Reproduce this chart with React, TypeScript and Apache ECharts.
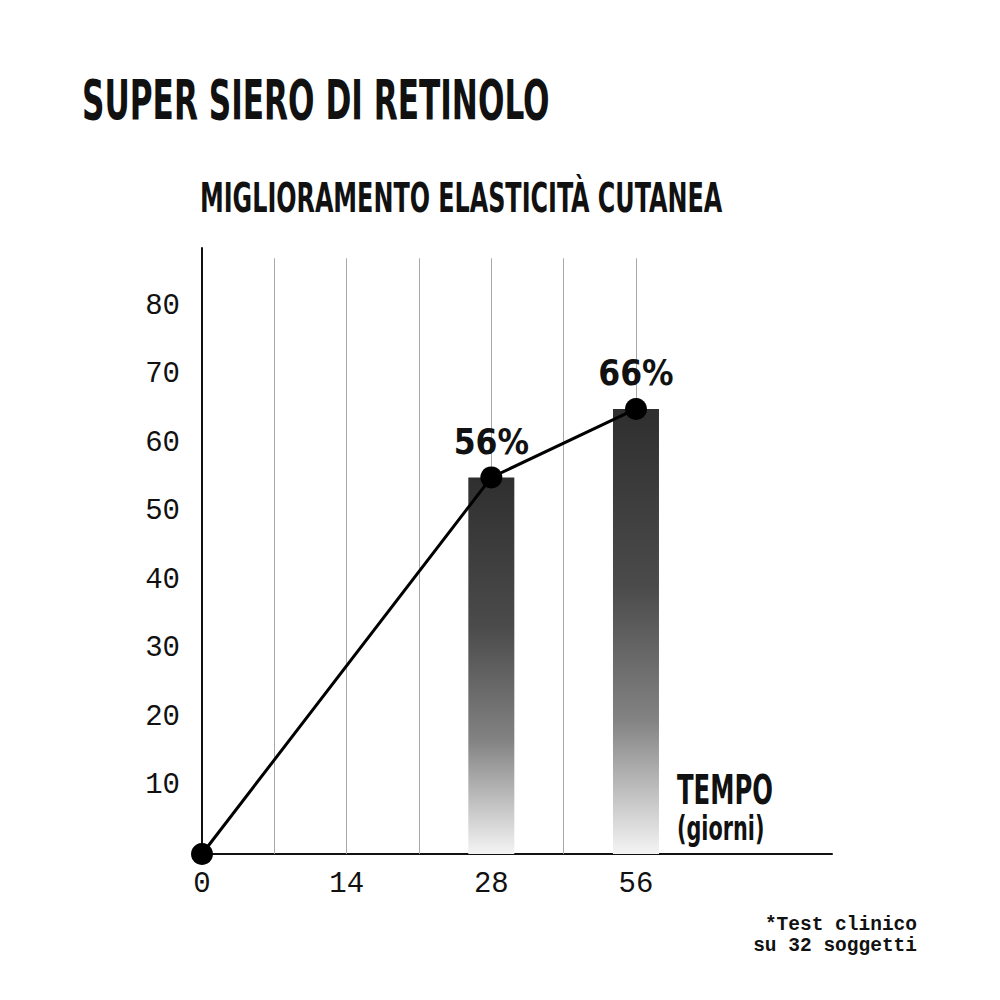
import React, { useEffect, useRef } from 'react';
import * as echarts from 'echarts';

// ---- data ----
const titleText = 'SUPER SIERO DI RETINOLO';
const subtitleText = 'MIGLIORAMENTO ELASTICITÀ CUTANEA';
const xAxisName = 'TEMPO';
const xAxisUnit = '(giorni)';
const footnoteLines = ['*Test clinico', 'su 32 soggetti'];

const dayLabels = ['0', '14', '28', '56'];
const dayPositions = [0, 2, 4, 6];
const gridPositions = [1, 2, 3, 4, 5, 6];
const yTicks = [10, 20, 30, 40, 50, 60, 70, 80];

const linePositions = [0, 4, 6];
const lineValues = [0, 55, 65];
const pointLabels = ['', '56%', '66%'];

const barPositions = [4, 6];
const barValues = [55, 65];

const COND = '"DejaVu Sans Condensed", "DejaVu Sans", sans-serif';
const MONO = '"Liberation Mono", "DejaVu Sans Mono", monospace';

function textEl(text: string, x: number, y: number, size: number, sx: number, align: string, family: string, weight: string | number = 'bold') {
  return {
    type: 'text',
    x,
    y,
    scaleX: sx,
    silent: true,
    style: {
      text,
      x: 0,
      y: 0,
      fill: '#111',
      fontSize: size,
      fontWeight: weight,
      fontFamily: family,
      align,
      textAlign: align,
      verticalAlign: 'middle',
      textVerticalAlign: 'middle',
    },
  };
}

export default function App() {
  const ref = useRef<HTMLDivElement>(null);
  useEffect(() => {
    document.body.style.margin = '0';
    const chart = echarts.init(ref.current!, null, { renderer: 'svg' });
    const option: any = {
      animation: false,
      backgroundColor: '#ffffff',
      grid: { left: 202, right: 168, top: 248, bottom: 146 },
      xAxis: {
        type: 'value',
        min: 0,
        max: 8.71,
        interval: 1,
        axisLine: { show: true, lineStyle: { color: '#111', width: 2 } },
        axisTick: { show: false },
        splitLine: { show: false },
        axisLabel: {
          margin: 16,
          fontFamily: MONO,
          fontSize: 29,
          color: '#111',
          showMaxLabel: false,
          formatter: (v: number) => {
            const i = dayPositions.indexOf(v);
            return i >= 0 ? dayLabels[i] : '';
          },
        },
      },
      yAxis: {
        type: 'value',
        min: 0,
        max: 88.5,
        interval: 10,
        axisLine: { show: true, lineStyle: { color: '#111', width: 2 } },
        axisTick: { show: false },
        splitLine: { show: false },
        axisLabel: {
          margin: 22,
          fontFamily: MONO,
          fontSize: 29,
          color: '#111',
          formatter: (v: number) => (yTicks.includes(v) ? String(v) : ''),
        },
      },
      series: [
        {
          type: 'line',
          z: 1,
          silent: true,
          data: linePositions.map((p, i) => [p, lineValues[i]]),
          showSymbol: false,
          lineStyle: { opacity: 0 },
          markLine: {
            z: 1,
            silent: true,
            symbol: 'none',
            label: { show: false },
            lineStyle: { color: '#a8a8a8', width: 1, type: 'solid' },
            data: gridPositions.map((p) => [{ coord: [p, 0] }, { coord: [p, 87] }]),
          },
        },
        {
          type: 'bar',
          z: 2,
          barWidth: 46,
          data: barPositions.map((p, i) => [p, barValues[i]]),
          itemStyle: {
            color: new echarts.graphic.LinearGradient(0, 0, 0, 1, [
              { offset: 0, color: '#2f2f2f' },
              { offset: 0.4, color: '#4b4b4b' },
              { offset: 0.7, color: '#838383' },
              { offset: 1, color: '#f4f4f4' },
            ]),
          },
        },
        {
          type: 'line',
          z: 3,
          data: linePositions.map((p, i) => [p, lineValues[i]]),
          symbol: 'circle',
          symbolSize: 22,
          itemStyle: { color: '#000' },
          lineStyle: { color: '#000', width: 3 },
          label: {
            show: true,
            position: 'top',
            distance: 7,
            fontFamily: COND,
            fontWeight: 'bold',
            fontSize: 35,
            color: '#111',
            formatter: (p: any) => pointLabels[p.dataIndex],
          },
        },
      ],
      graphic: [
        textEl(titleText, 82, 100, 55, 0.63, 'left', COND),
        textEl(subtitleText, 200, 198, 41, 0.647, 'left', COND),
        textEl(xAxisName, 677, 790, 41, 0.66, 'left', COND),
        textEl(xAxisUnit, 677, 829, 33, 0.7, 'left', COND),
        textEl(footnoteLines[0], 917, 925, 19.5, 1, 'right', MONO),
        textEl(footnoteLines[1], 917, 946, 19.5, 1, 'right', MONO),
      ],
    };
    chart.setOption(option);
    return () => chart.dispose();
  }, []);
  return <div ref={ref} style={{ width: 1000, height: 1000 }} />;
}
